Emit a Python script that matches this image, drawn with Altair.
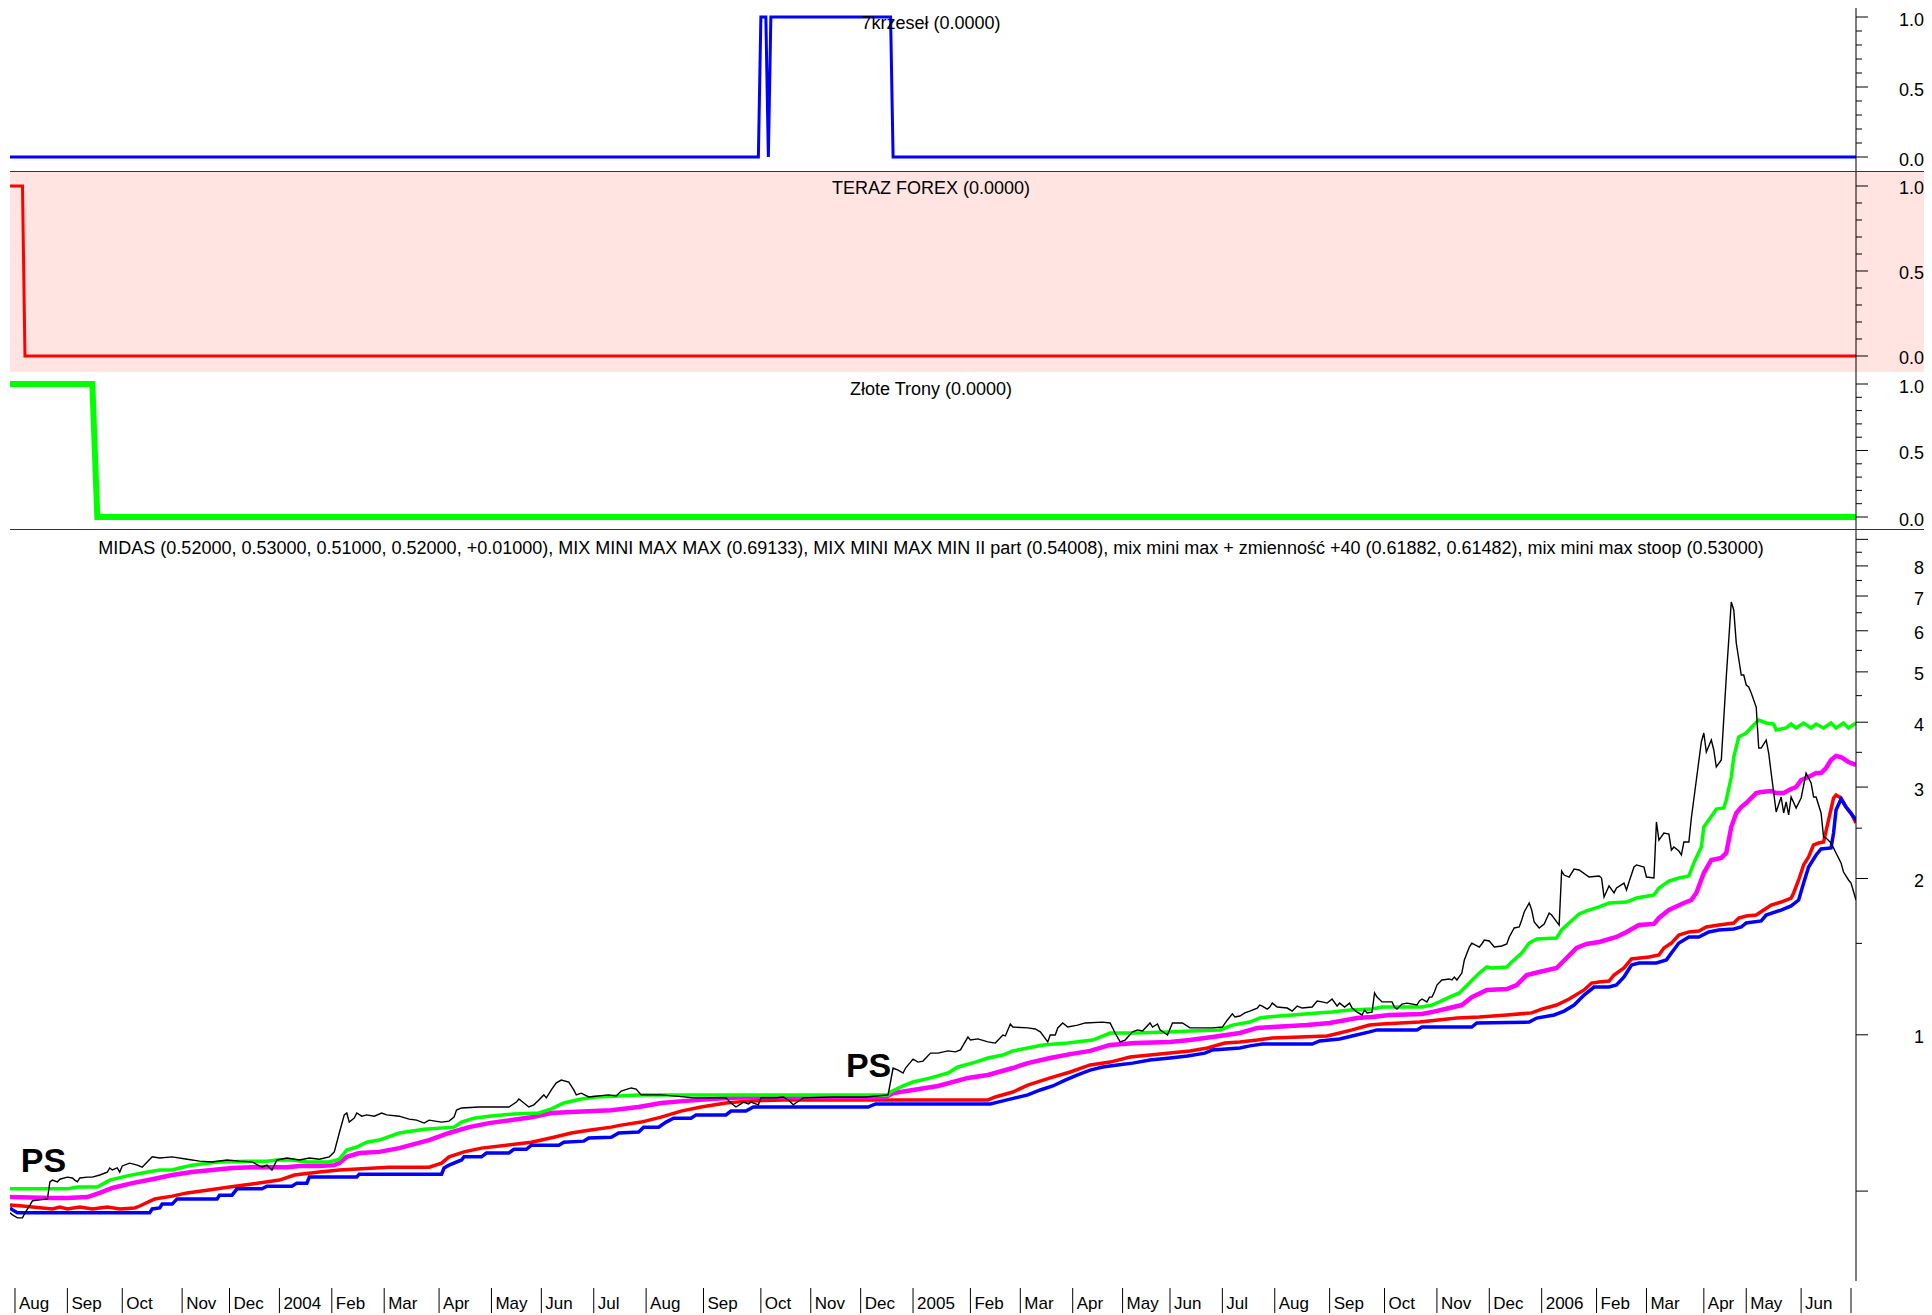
import altair as alt
import pandas as pd

FONT = "Liberation Sans"
W = 1846
H1, H2, H3, H4 = 164, 200, 158, 751
XMAX = 740

# ---------------- data (trading-day index, value) ----------------
k7 = [(0, 0), (300, 0), (301, 1), (303, 1), (304, 0), (305, 1), (353, 1), (354, 0), (740, 0)]
forex = [(0, 1), (5, 1), (6, 0), (740, 0)]
trony = [(0, 1), (33, 1), (35, 0), (740, 0)]

black = [(0,0.454),(1,0.450),(3,0.444),(5,0.444),(6,0.454),(8,0.470),(9,0.479),(12,0.481),(15,0.483),(16,0.521),(17,0.525),(19,0.521),(20,0.527),(23,0.532),(25,0.530),(26,0.525),(27,0.521),(28,0.530),(31,0.532),(33,0.532),(36,0.537),(39,0.544),(40,0.554),(41,0.549),(43,0.554),(44,0.544),(45,0.559),(48,0.566),(51,0.561),(53,0.556),(55,0.569),(57,0.582),(60,0.579),(65,0.582),(71,0.576),(76,0.571),(81,0.569),(87,0.574),(92,0.571),(97,0.569),(101,0.556),(103,0.561),(105,0.549),(107,0.574),(111,0.579),(116,0.574),(120,0.579),(124,0.576),(128,0.582),(130,0.595),(132,0.647),(134,0.701),(135,0.707),(136,0.679),(138,0.691),(139,0.707),(141,0.697),(143,0.701),(146,0.697),(149,0.707),(151,0.701),(156,0.697),(160,0.688),(163,0.685),(166,0.676),(168,0.685),(173,0.679),(176,0.682),(178,0.694),(179,0.716),(181,0.723),(188,0.726),(194,0.726),(200,0.726),(203,0.742),(204,0.752),(206,0.739),(208,0.726),(210,0.733),(212,0.749),(214,0.766),(215,0.756),(217,0.783),(219,0.808),(221,0.818),(224,0.811),(226,0.783),(227,0.766),(229,0.772),(232,0.759),(240,0.766),(243,0.762),(245,0.779),(249,0.790),(251,0.786),(253,0.766),(261,0.766),(267,0.762),(274,0.756),(282,0.756),(287,0.756),(289,0.739),(291,0.726),(293,0.736),(294,0.742),(296,0.736),(297,0.742),(300,0.733),(301,0.756),(307,0.756),(310,0.759),(312,0.749),(314,0.733),(315,0.739),(318,0.756),(330,0.759),(343,0.759),(352,0.766),(354,0.863),(356,0.855),(358,0.844),(359,0.863),(361,0.886),(362,0.898),(364,0.886),(366,0.890),(369,0.922),(372,0.922),(376,0.931),(379,0.927),(381,0.935),(384,0.990),(385,0.977),(388,0.982),(392,0.969),(395,0.964),(398,0.999),(399,0.995),(401,1.049),(402,1.035),(408,1.031),(411,1.026),(413,1.013),(416,0.969),(417,0.999),(419,0.999),(420,1.031),(422,1.054),(424,1.035),(428,1.044),(431,1.054),(438,1.058),(441,1.054),(443,1.008),(445,0.969),(447,0.977),(450,1.013),(452,1.022),(454,1.017),(457,1.054),(458,1.035),(460,1.049),(461,1.022),(464,0.999),(466,1.054),(470,1.054),(473,1.031),(482,1.031),(486,1.035),(488,1.068),(490,1.097),(491,1.082),(493,1.087),(495,1.102),(497,1.111),(500,1.126),(501,1.141),(502,1.136),(504,1.121),(505,1.131),(506,1.151),(508,1.131),(512,1.126),(514,1.111),(516,1.136),(518,1.126),(522,1.131),(524,1.162),(526,1.157),(528,1.151),(530,1.172),(532,1.136),(533,1.151),(535,1.131),(537,1.151),(538,1.126),(540,1.106),(542,1.092),(543,1.116),(544,1.102),(546,1.106),(547,1.204),(548,1.182),(550,1.157),(554,1.157),(555,1.131),(556,1.121),(558,1.146),(560,1.151),(564,1.141),(565,1.162),(566,1.172),(568,1.157),(569,1.182),(570,1.182),(571,1.209),(572,1.247),(574,1.275),(577,1.281),(578,1.275),(579,1.292),(580,1.275),(582,1.315),(583,1.394),(585,1.476),(586,1.502),(589,1.476),(590,1.496),(591,1.522),(593,1.516),(595,1.476),(598,1.483),(600,1.496),(601,1.543),(603,1.606),(605,1.613),(606,1.664),(607,1.724),(609,1.794),(610,1.739),(611,1.649),(613,1.606),(615,1.635),(617,1.716),(618,1.701),(621,1.627),(622,2.068),(623,2.031),(625,2.013),(627,2.086),(629,2.077),(633,2.013),(637,2.022),(638,2.004),(639,1.843),(641,1.935),(643,1.876),(644,1.918),(647,1.960),(648,1.900),(649,1.969),(651,2.105),(652,2.124),(655,2.105),(656,2.013),(659,2.004),(660,2.570),(661,2.372),(663,2.447),(665,2.436),(666,2.269),(667,2.300),(669,2.259),(670,2.220),(671,2.351),(673,2.351),(674,2.616),(676,3.096),(678,3.664),(679,3.813),(680,3.505),(682,3.696),(683,3.536),(684,3.279),(686,3.383),(688,4.888),(690,6.817),(691,6.580),(692,5.683),(694,4.931),(695,4.931),(696,4.718),(697,4.676),(698,4.553),(700,4.278),(701,3.567),(702,3.567),(704,3.696),(705,3.489),(706,3.193),(708,2.686),(710,2.871),(711,2.674),(712,2.808),(713,2.651),(714,2.871),(716,2.734),(718,2.858),(720,3.193),(722,3.055),(723,2.871),(724,2.871),(726,2.674),(727,2.404),(728,2.393),(730,2.341),(732,2.240),(734,2.143),(735,2.058),(737,1.987),(738,1.960),(740,1.818)]

green = [(0,0.505),(23,0.505),(27,0.509),(35,0.509),(40,0.525),(47,0.535),(53,0.542),(60,0.549),(65,0.549),(68,0.554),(73,0.561),(79,0.566),(84,0.569),(95,0.571),(103,0.571),(107,0.574),(113,0.574),(119,0.569),(128,0.569),(132,0.576),(135,0.600),(139,0.608),(143,0.621),(148,0.627),(156,0.647),(166,0.658),(178,0.664),(181,0.679),(186,0.691),(192,0.697),(202,0.704),(212,0.707),(217,0.720),(222,0.739),(229,0.752),(235,0.759),(244,0.762),(252,0.766),(352,0.766),(353,0.776),(358,0.797),(362,0.811),(369,0.826),(376,0.844),(380,0.867),(387,0.886),(392,0.902),(398,0.914),(402,0.931),(408,0.943),(414,0.956),(424,0.964),(434,0.977),(441,1.008),(451,1.008),(464,1.013),(473,1.017),(485,1.022),(490,1.044),(497,1.058),(501,1.077),(504,1.082),(514,1.092),(524,1.102),(530,1.106),(537,1.116),(546,1.121),(550,1.131),(566,1.131),(570,1.141),(573,1.157),(577,1.182),(581,1.204),(585,1.258),(589,1.315),(592,1.351),(594,1.345),(600,1.351),(602,1.381),(606,1.437),(609,1.502),(612,1.529),(620,1.536),(622,1.592),(625,1.642),(629,1.709),(632,1.732),(637,1.763),(641,1.794),(648,1.802),(652,1.834),(659,1.859),(661,1.918),(665,1.978),(669,2.004),(673,2.022),(675,2.143),(678,2.300),(679,2.513),(683,2.674),(684,2.722),(687,2.734),(688,2.833),(690,3.137),(691,3.428),(693,3.746),(696,3.813),(699,3.951),(701,4.039),(704,3.986),(707,3.968),(708,3.864),(712,3.899),(714,3.968),(716,3.899),(719,3.986),(722,3.899),(724,3.968),(727,3.899),(730,3.986),(732,3.899),(735,3.986),(737,3.899),(740,3.986)]

magenta = [(0,0.487),(16,0.485),(23,0.485),(31,0.487),(36,0.496),(41,0.507),(49,0.518),(57,0.527),(65,0.537),(73,0.544),(81,0.549),(89,0.554),(97,0.556),(111,0.556),(116,0.559),(124,0.559),(130,0.561),(132,0.566),(135,0.582),(140,0.592),(148,0.595),(156,0.605),(168,0.627),(176,0.647),(184,0.664),(192,0.676),(209,0.694),(217,0.707),(225,0.710),(241,0.716),(252,0.726),(261,0.739),(271,0.746),(281,0.752),(290,0.756),(300,0.759),(351,0.759),(354,0.772),(362,0.783),(372,0.797),(384,0.826),(392,0.837),(402,0.863),(408,0.882),(417,0.902),(425,0.918),(433,0.931),(441,0.956),(451,0.964),(465,0.969),(473,0.977),(482,0.990),(493,1.008),(500,1.031),(506,1.035),(520,1.044),(529,1.054),(540,1.077),(546,1.082),(553,1.092),(566,1.097),(570,1.106),(577,1.126),(582,1.141),(586,1.182),(592,1.220),(600,1.225),(604,1.247),(608,1.304),(613,1.321),(620,1.345),(624,1.406),(628,1.470),(632,1.496),(637,1.509),(644,1.543),(648,1.578),(653,1.627),(659,1.635),(661,1.679),(665,1.739),(671,1.794),(674,1.818),(676,1.876),(679,2.049),(682,2.171),(686,2.191),(688,2.240),(690,2.513),(692,2.674),(694,2.746),(696,2.795),(700,2.922),(702,2.935),(706,2.948),(708,2.922),(711,2.922),(714,2.974),(716,3.001),(718,3.096),(721,3.137),(724,3.193),(726,3.193),(728,3.265),(730,3.383),(732,3.443),(734,3.428),(737,3.353),(740,3.308)]

red = [(0,0.470),(5,0.468),(17,0.462),(20,0.466),(23,0.462),(28,0.466),(33,0.462),(39,0.466),(44,0.462),(50,0.464),(52,0.468),(58,0.483),(65,0.489),(71,0.496),(79,0.502),(88,0.509),(97,0.516),(108,0.525),(114,0.537),(124,0.544),(132,0.549),(152,0.556),(168,0.556),(173,0.566),(176,0.582),(182,0.595),(189,0.605),(199,0.613),(209,0.621),(218,0.635),(225,0.647),(232,0.655),(241,0.664),(245,0.670),(253,0.679),(261,0.694),(269,0.713),(277,0.726),(287,0.739),(297,0.746),(310,0.749),(392,0.749),(395,0.759),(402,0.776),(408,0.800),(417,0.826),(425,0.848),(433,0.875),(441,0.886),(449,0.906),(457,0.914),(465,0.922),(473,0.931),(480,0.943),(487,0.964),(493,0.969),(500,0.977),(506,0.986),(517,0.990),(528,0.995),(533,1.008),(538,1.022),(545,1.044),(550,1.049),(565,1.058),(580,1.077),(589,1.082),(600,1.092),(610,1.102),(614,1.121),(620,1.141),(625,1.172),(631,1.220),(634,1.258),(637,1.264),(641,1.269),(643,1.304),(647,1.345),(650,1.400),(657,1.412),(661,1.425),(663,1.470),(666,1.502),(669,1.557),(673,1.578),(677,1.585),(680,1.613),(685,1.627),(691,1.642),(693,1.679),(696,1.694),(700,1.701),(703,1.739),(706,1.778),(710,1.802),(714,1.834),(715,1.876),(717,1.987),(719,2.124),(721,2.200),(723,2.321),(725,2.341),(727,2.351),(729,2.593),(731,2.858),(732,2.896),(734,2.858),(736,2.746),(738,2.674),(740,2.558)]

blue = [(0,0.464),(1,0.460),(3,0.454),(56,0.454),(57,0.462),(60,0.464),(61,0.472),(65,0.472),(67,0.483),(83,0.483),(84,0.491),(89,0.491),(91,0.505),(101,0.505),(103,0.511),(113,0.511),(115,0.518),(119,0.518),(120,0.532),(139,0.532),(140,0.539),(173,0.539),(174,0.554),(176,0.561),(181,0.574),(182,0.582),(189,0.582),(191,0.592),(200,0.592),(202,0.602),(207,0.602),(209,0.613),(220,0.613),(222,0.621),(230,0.624),(232,0.633),(241,0.635),(244,0.647),(252,0.650),(254,0.664),(260,0.664),(263,0.679),(266,0.691),(273,0.691),(275,0.701),(287,0.701),(289,0.713),(295,0.713),(298,0.726),(344,0.726),(347,0.736),(393,0.736),(396,0.742),(403,0.756),(408,0.766),(413,0.783),(418,0.797),(423,0.818),(428,0.837),(433,0.855),(438,0.867),(444,0.875),(450,0.882),(457,0.894),(465,0.902),(472,0.910),(479,0.922),(482,0.935),(493,0.943),(497,0.952),(502,0.960),(522,0.960),(525,0.973),(533,0.982),(538,0.995),(545,1.013),(548,1.022),(564,1.022),(566,1.035),(586,1.035),(588,1.054),(609,1.058),(612,1.077),(619,1.092),(623,1.111),(627,1.141),(631,1.193),(635,1.236),(641,1.236),(644,1.247),(647,1.292),(650,1.363),(653,1.375),(660,1.375),(664,1.394),(666,1.437),(669,1.502),(673,1.543),(677,1.543),(681,1.578),(685,1.592),(691,1.599),(694,1.613),(696,1.642),(702,1.657),(704,1.701),(710,1.739),(714,1.771),(717,1.818),(719,1.960),(721,2.105),(724,2.220),(726,2.280),(730,2.290),(731,2.447),(732,2.710),(734,2.846),(736,2.746),(740,2.593)]

ps_day = [4.3, 335.1]
ps_val = [0.544, 0.829]
ps_txt = ["PS", "PS"]

month_pos = [2, 23, 45, 69, 88, 108, 129, 150, 172, 193, 213, 234, 255, 278, 301, 321, 341,
             362, 385, 405, 426, 446, 465, 486, 507, 529, 551, 572, 593, 614, 636, 656, 679,
             696, 718, 738]
month_lab = ["Aug", "Sep", "Oct", "Nov", "Dec", "2004", "Feb", "Mar", "Apr", "May", "Jun", "Jul",
             "Aug", "Sep", "Oct", "Nov", "Dec", "2005", "Feb", "Mar", "Apr", "May", "Jun", "Jul",
             "Aug", "Sep", "Oct", "Nov", "Dec", "2006", "Feb", "Mar", "Apr", "May", "Jun", ""]

unit_major = [0.0, 0.5, 1.0]
unit_minor = [0.1, 0.2, 0.3, 0.4, 0.6, 0.7, 0.8, 0.9]
unit_lab = ["0.0", "0.5", "1.0"]
log_major = [0.5, 1, 2, 3, 4, 5, 6, 7, 8, 9]
log_minor = [1.5, 2.5, 3.5, 4.5, 5.5, 6.5, 7.5, 8.5]
log_lab_val = [1, 2, 3, 4, 5, 6, 7, 8]
log_lab = ["1", "2", "3", "4", "5", "6", "7", "8"]

titles = ["7krzeseł (0.0000)", "TERAZ FOREX (0.0000)", "Złote Trony (0.0000)",
          "MIDAS (0.52000, 0.53000, 0.51000, 0.52000, +0.01000), MIX MINI MAX MAX (0.69133), "
          "MIX MINI MAX MIN II part (0.54008), mix mini max + zmienność +40 (0.61882, 0.61482), "
          "mix mini max stoop (0.53000)"]


def df_of(pairs):
    return pd.DataFrame(pairs, columns=["day", "v"])


xs = alt.Scale(domain=[0, XMAX], nice=False, zero=False)
RIGHT = W + 68


def line_layer(pairs, ys, color, sw):
    return alt.Chart(df_of(pairs)).mark_line(color=color, strokeWidth=sw, clip=True).encode(
        x=alt.X("day:Q", scale=xs, axis=None),
        y=alt.Y("v:Q", scale=ys, axis=None))


def title_layer(text, ybase):
    return alt.Chart().mark_text(text=text, font=FONT, fontSize=18, align="center",
                                 baseline="alphabetic", color="black").encode(
        x=alt.value(921), y=alt.value(ybase))


def axis_layers(H, ys, major, minor, lab_vals, labs):
    dom = alt.Chart().mark_rect(color="black").encode(
        x=alt.value(W - 0.5), x2=alt.value(W + 0.5), y=alt.value(0), y2=alt.value(H))
    maj = alt.Chart(pd.DataFrame({"v": major})).mark_rule(color="black", strokeWidth=1).encode(
        y=alt.Y("v:Q", scale=ys, axis=None), x=alt.value(W), x2=alt.value(W + 12))
    mnr = alt.Chart(pd.DataFrame({"v": minor})).mark_rule(color="black", strokeWidth=1).encode(
        y=alt.Y("v:Q", scale=ys, axis=None), x=alt.value(W), x2=alt.value(W + 6))
    lab = alt.Chart(pd.DataFrame({"v": lab_vals, "t": labs})).mark_text(
        font=FONT, fontSize=18, align="right", baseline="middle", dy=3.5, color="black").encode(
        y=alt.Y("v:Q", scale=ys, axis=None), x=alt.value(RIGHT), text="t:N")
    return [dom, maj, mnr, lab]


def divider(H):
    return alt.Chart().mark_rect(color="#333333").encode(
        x=alt.value(0), x2=alt.value(RIGHT), y=alt.value(H - 1), y2=alt.value(H))


# ---------------- panel 1 ----------------
y1 = alt.Scale(domain=[-0.10714, 1.06429], nice=False, zero=False)
p1 = alt.layer(
    line_layer(k7, y1, "#0000ff", 3),
    title_layer(titles[0], 21),
    *axis_layers(H1, y1, unit_major, unit_minor, unit_major, unit_lab),
    divider(H1),
).properties(width=W, height=H1)

# ---------------- panel 2 ----------------
y2 = alt.Scale(domain=[-0.09412, 1.08235], nice=False, zero=False)
bg = alt.Chart().mark_rect(color="#ffe4e1").encode(
    x=alt.value(0), x2=alt.value(RIGHT), y=alt.value(0), y2=alt.value(H2))
p2 = alt.layer(
    bg,
    line_layer(forex, y2, "#ff0000", 3),
    title_layer(titles[1], 21.5),
    *axis_layers(H2, y2, unit_major, unit_minor, unit_major, unit_lab),
).properties(width=W, height=H2)

# ---------------- panel 3 ----------------
y3 = alt.Scale(domain=[-0.09774, 1.09023], nice=False, zero=False)
p3 = alt.layer(
    line_layer(trony, y3, "#00ff00", 6),
    title_layer(titles[2], 22.5),
    *axis_layers(H3, y3, unit_major, unit_minor, unit_major, unit_lab),
    divider(H3),
).properties(width=W, height=H3)

# ---------------- main panel ----------------
y4 = alt.Scale(type="log", domain=[0.3356, 9.381], nice=False)
ps = alt.Chart(pd.DataFrame({"day": ps_day, "v": ps_val, "t": ps_txt})).mark_text(
    font=FONT, fontSize=34, fontWeight="bold", align="left", baseline="alphabetic",
    color="black").encode(
    x=alt.X("day:Q", scale=xs, axis=None), y=alt.Y("v:Q", scale=y4, axis=None), text="t:N")
mdf = pd.DataFrame({"day": month_pos, "t": month_lab})
mticks = alt.Chart(mdf).mark_rule(color="black", strokeWidth=1).encode(
    x=alt.X("day:Q", scale=xs, axis=None), y=alt.value(H4 + 7), y2=alt.value(H4 + 32))
mlabels = alt.Chart(mdf).mark_text(font=FONT, fontSize=17, align="left", baseline="middle",
                                   dx=4, color="black").encode(
    x=alt.X("day:Q", scale=xs, axis=None), y=alt.value(H4 + 22.5), text="t:N")

p4 = alt.layer(
    line_layer(red, y4, "#ff0000", 3.5),
    line_layer(blue, y4, "#0000ff", 3.5),
    line_layer(magenta, y4, "#ff00ff", 4.5),
    line_layer(green, y4, "#00ff00", 3.5),
    line_layer(black, y4, "#000000", 1.4),
    ps,
    title_layer(titles[3], 23.5),
    *axis_layers(H4, y4, log_major, log_minor, log_lab_val, log_lab),
    mticks,
    mlabels,
).properties(width=W, height=H4)

chart = alt.vconcat(p1, p2, p3, p4, spacing=0, bounds="flush").properties(
    padding={"left": 2, "top": 0, "right": 0, "bottom": 0}
).configure_view(stroke=None)

chart.save("out.html", embed_options={"renderer": "svg", "actions": False})
